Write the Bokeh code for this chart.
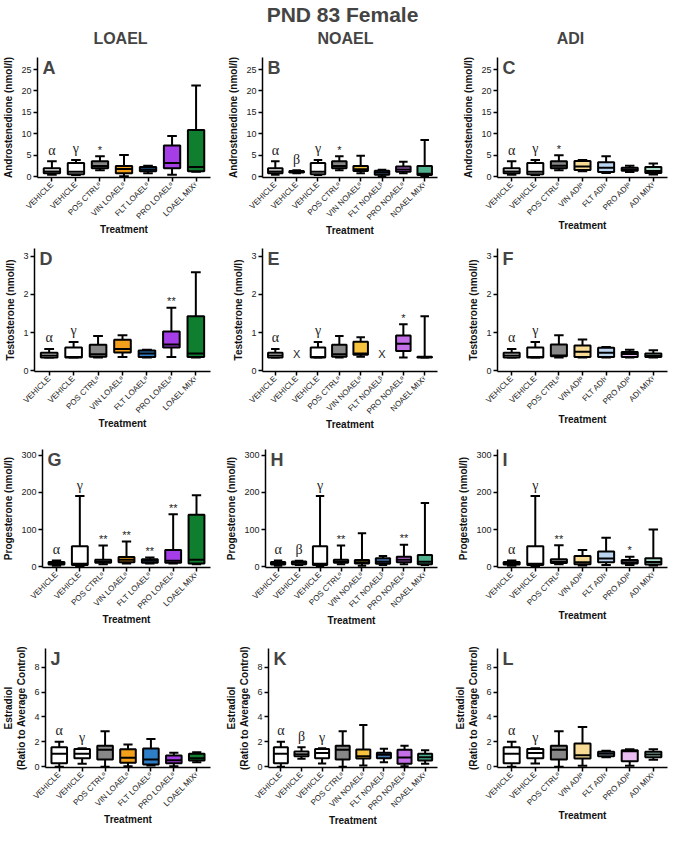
import math
from bokeh.plotting import figure
from bokeh.models import ColumnDataSource, Range1d, FixedTicker, Label
from bokeh.layouts import column, row
from bokeh.transform import dodge
from bokeh.core.properties import value
from bokeh.embed import file_html
from bokeh.resources import INLINE

nan = float("nan")
FONT = "Liberation Sans"

# ---------------- categories ----------------
LOAEL_NAMES = ["VEHICLE", "VEHICLE", "POS CTRL", "VIN LOAEL", "FLT LOAEL", "PRO LOAEL", "LOAEL MIX"]
LOAEL_SUPS = ["", "", "ᵅ", "ᵅ", "ᵅ", "ᵅ", "ᵞ"]
NOAEL_NAMES = ["VEHICLE", "VEHICLE", "VEHICLE", "POS CTRL", "VIN NOAEL", "FLT NOAEL", "PRO NOAEL", "NOAEL MIX"]
NOAEL_SUPS = ["", "", "", "ᵅ", "ᵅ", "ᵝ", "ᵅ", "ᵞ"]
ADI_NAMES = ["VEHICLE", "VEHICLE", "POS CTRL", "VIN ADI", "FLT ADI", "PRO ADI", "ADI MIX"]
ADI_SUPS = ["", "", "ᵅ", "ᵅ", "ᵞ", "ᵅ", "ᵞ"]

# ---------------- Androstenedione ----------------
A_low = [0.5, 0.4, 1.5, 0.15, 0.8, 0.5, 1.2]
A_q1 = [0.8, 0.6, 2.0, 0.8, 1.3, 2.0, 1.3]
A_med = [1.25, 1.2, 2.5, 1.8, 1.7, 3.2, 2.3]
A_q3 = [2.0, 3.2, 3.6, 2.5, 2.3, 7.3, 10.9]
A_high = [3.6, 3.9, 4.8, 5.1, 2.6, 9.5, 21.3]
A_marks = ["α", "γ", "*", "", "", "", ""]

B_low = [0.5, 0.8, 0.4, 1.5, 0.8, 0.1, 0.8, 0.2]
B_q1 = [0.8, 1.0, 0.6, 2.0, 1.35, 0.5, 1.2, 0.4]
B_med = [1.25, 1.15, 1.2, 2.5, 1.75, 1.0, 1.7, 0.7]
B_q3 = [2.0, 1.35, 3.2, 3.6, 2.5, 1.4, 2.4, 2.5]
B_high = [3.6, 1.5, 3.9, 4.8, 4.9, 1.65, 3.5, 8.6]
B_marks = ["α", "β", "γ", "*", "", "", "", ""]

C_low = [0.5, 0.4, 1.5, 1.3, 0.9, 1.1, 0.55]
C_q1 = [0.8, 0.6, 2.0, 1.6, 1.1, 1.4, 0.9]
C_med = [1.25, 1.2, 2.6, 2.4, 2.1, 1.7, 1.35]
C_q3 = [2.0, 3.2, 3.6, 3.7, 3.4, 2.1, 2.3]
C_high = [3.6, 3.9, 5.0, 3.9, 4.8, 2.6, 3.1]
C_marks = ["α", "γ", "*", "", "", "", ""]

# ---------------- Testosterone ----------------
D_low = [0.35, 0.35, 0.35, 0.36, 0.35, 0.36, 0.35]
D_q1 = [0.35, 0.35, 0.37, 0.48, 0.36, 0.61, 0.36]
D_med = [0.40, 0.36, 0.43, 0.57, 0.45, 0.69, 0.45]
D_q3 = [0.47, 0.61, 0.68, 0.81, 0.53, 1.03, 1.43]
D_high = [0.57, 0.75, 0.91, 0.93, 0.55, 1.65, 2.58]
D_marks = ["α", "γ", "", "", "", "**", ""]

E_low = [0.35, nan, 0.35, 0.35, 0.37, nan, 0.35, 0.35]
E_q1 = [0.35, nan, 0.35, 0.37, 0.42, nan, 0.52, 0.35]
E_med = [0.40, nan, 0.36, 0.43, 0.45, nan, 0.71, 0.36]
E_q3 = [0.47, nan, 0.61, 0.68, 0.76, nan, 0.92, 0.37]
E_high = [0.57, nan, 0.75, 0.91, 0.88, nan, 1.22, 1.43]
E_marks = ["α", "X", "γ", "", "", "X", "*", ""]

F_low = [0.35, 0.35, 0.35, 0.35, 0.35, 0.35, 0.35]
F_q1 = [0.35, 0.35, 0.38, 0.36, 0.36, 0.36, 0.36]
F_med = [0.40, 0.36, 0.40, 0.50, 0.47, 0.44, 0.39]
F_q3 = [0.47, 0.61, 0.69, 0.66, 0.60, 0.49, 0.45]
F_high = [0.57, 0.75, 0.93, 0.82, 0.62, 0.55, 0.54]
F_marks = ["α", "γ", "", "", "", "", ""]

# ---------------- Progesterone ----------------
G_low = [3, 1, 7, 9, 9, 9, 7]
G_q1 = [6, 4.5, 11, 12, 11, 11, 9]
G_med = [9, 8, 13.5, 19, 16, 16, 19]
G_q3 = [13, 55, 19, 26, 20, 45, 140]
G_high = [17, 190, 57, 68, 25, 141, 192]
G_marks = ["α", "γ", "**", "**", "**", "**", ""]

H_low = [3, 5, 1, 7, 3, 5, 7, 4.5]
H_q1 = [6, 7, 4.5, 11, 9, 8, 12, 7]
H_med = [9, 11, 8, 13.5, 12, 13.5, 19, 13.5]
H_q3 = [13, 14.5, 55, 19, 18, 23, 27, 32]
H_high = [17, 16, 190, 57, 90, 29, 59, 171]
H_marks = ["α", "β", "γ", "**", "", "", "**", ""]

I_low = [3, 1, 7, 3.5, 5, 5, 3.5]
I_q1 = [6, 4.5, 10, 7, 12.5, 9, 6]
I_med = [9, 8, 13, 12.5, 22, 12.5, 13]
I_q3 = [13, 55, 20, 29, 41, 18, 23]
I_high = [17, 190, 58, 45, 78, 27, 100]
I_marks = ["α", "γ", "**", "", "", "*", ""]

# ---------------- Estradiol ----------------
J_low = [0.0, 0.25, 0.0, 0.05, 0.1, 0.05, 0.37]
J_q1 = [0.29, 0.68, 0.58, 0.32, 0.19, 0.29, 0.5]
J_med = [1.05, 1.05, 1.36, 0.72, 0.58, 0.53, 0.69]
J_q3 = [1.57, 1.42, 1.68, 1.41, 1.46, 0.9, 1.04]
J_high = [2.02, 1.48, 2.85, 1.8, 2.23, 1.12, 1.17]
J_marks = ["α", "γ", "", "", "", "", ""]

K_low = [0.0, 0.64, 0.27, 0.0, 0.1, 0.37, 0.05, 0.24]
K_q1 = [0.29, 0.85, 0.69, 0.58, 0.66, 0.69, 0.24, 0.5]
K_med = [1.05, 1.01, 1.1, 1.36, 0.85, 0.96, 0.74, 0.77]
K_q3 = [1.57, 1.22, 1.42, 1.68, 1.38, 1.12, 1.36, 1.04]
K_high = [2.02, 1.57, 1.49, 2.85, 3.35, 1.44, 1.68, 1.33]
K_marks = ["α", "β", "γ", "", "", "", "", ""]

L_low = [0.0, 0.27, 0.0, 0.08, 0.77, 0.08, 0.56]
L_q1 = [0.29, 0.69, 0.58, 0.67, 0.85, 0.45, 0.77]
L_med = [1.05, 1.1, 1.36, 0.93, 1.04, 1.25, 0.99]
L_q3 = [1.57, 1.42, 1.68, 1.87, 1.2, 1.33, 1.2]
L_high = [2.02, 1.49, 2.85, 3.2, 1.28, 1.41, 1.41]
L_marks = ["α", "γ", "", "", "", "", ""]

Y_LABELS = ["Androstenedione (nmol/l)", "Testosterone (nmol/l)",
            "Progesterone (nmol/l)", "Estradiol\n(Ratio to Average Control)"]
Y_TICKS = [[0, 5, 10, 15, 20, 25], [0, 1, 2, 3], [0, 100, 200, 300], [0, 2, 4, 6, 8]]
Y_MAX = [27.8, 3.2, 315, 9.5]

COLORS = {
    "VEHICLE": "#ffffff", "POS CTRL": "#878787",
    "VIN LOAEL": "#f5a01a", "FLT LOAEL": "#2f7fc8", "PRO LOAEL": "#a53ee6", "LOAEL MIX": "#0f7f2f",
    "VIN NOAEL": "#f7c23e", "FLT NOAEL": "#4479b3", "PRO NOAEL": "#c46fe8", "NOAEL MIX": "#4fb08e",
    "VIN ADI": "#f8dc95", "FLT ADI": "#bcd6f2", "PRO ADI": "#e9bdf2", "ADI MIX": "#aadcc8",
}

COL_W = 223
ROW_H = [192, 194, 196, 200]
ROW_TOP = [10, 9, 16, 19]
COL_LEFT = [34, 39, 51]
COL_RIGHT = [13, 9, 2]


def panel(letter, names, sups, low, q1, med, q3, high, marks, r, c):
    n = len(names)
    ymax = Y_MAX[r]
    ymin = -0.006 * ymax
    xs = list(range(1, n + 1))
    p = figure(width=COL_W, height=ROW_H[r],
               x_range=Range1d(0.4, n + 0.6), y_range=Range1d(ymin, ymax),
               output_backend="svg", toolbar_location=None,
               min_border_left=COL_LEFT[c], min_border_right=COL_RIGHT[c],
               min_border_top=ROW_TOP[r], min_border_bottom=0)
    p.outline_line_color = None
    p.grid.visible = False
    src = ColumnDataSource(dict(x=xs, low=low, q1=q1, med=med, q3=q3, high=high,
                                color=[COLORS[nm] for nm in names]))
    kw = dict(source=src, line_color="black", line_width=2)
    p.segment(x0="x", y0="low", x1="x", y1="q1", **kw)
    p.segment(x0="x", y0="q3", x1="x", y1="high", **kw)
    p.segment(x0=dodge("x", -0.2), y0="high", x1=dodge("x", 0.2), y1="high", **kw)
    p.segment(x0=dodge("x", -0.2), y0="low", x1=dodge("x", 0.2), y1="low", **kw)
    p.vbar(x="x", width=0.68, bottom="q1", top="q3", fill_color="color", **kw)
    p.segment(x0=dodge("x", -0.34), y0="med", x1=dodge("x", 0.34), y1="med", **kw)

    # annotations above boxes
    gx, gy, gt, sx, sy, st = [], [], [], [], [], []
    for i, m in enumerate(marks):
        if not m:
            continue
        h = high[i]
        if m in ("α", "β", "γ"):
            gx.append(xs[i]); gy.append(h + 0.03 * ymax); gt.append(m)
        elif m == "X":
            sx.append(xs[i]); sy.append(0.09 * ymax); st.append("X")
        else:
            sx.append(xs[i]); sy.append(h + 0.005 * ymax); st.append(m)
    if gt:
        p.text(x="x", y="y", text="t", source=ColumnDataSource(dict(x=gx, y=gy, t=gt)),
               text_font=value("Liberation Serif"), text_font_size=value("14px"),
               text_align="center", text_baseline="bottom", text_color="#222222")
    if st:
        p.text(x="x", y="y", text="t", source=ColumnDataSource(dict(x=sx, y=sy, t=st)),
               text_font=value(FONT), text_font_size=value("11px"),
               text_align="center", text_baseline="bottom", text_color="#222222")

    p.add_layout(Label(x=0.4, y=ymax, x_offset=5, text=letter, text_font=FONT,
                       text_font_size="18px", text_font_style="bold",
                       text_baseline="top", text_align="left"))

    p.xaxis.ticker = FixedTicker(ticks=xs)
    p.xaxis.major_label_overrides = {x: nm + s for x, nm, s in zip(xs, names, sups)}
    p.xaxis.major_label_orientation = math.pi / 4
    p.yaxis.ticker = FixedTicker(ticks=Y_TICKS[r])
    p.xaxis.axis_label = "Treatment"
    p.yaxis.axis_label = Y_LABELS[r]
    for ax in (p.xaxis, p.yaxis):
        ax.axis_line_width = 1.5
        ax.major_tick_line_width = 1.5
        ax.major_tick_in = 0
        ax.major_tick_out = 4
        ax.minor_tick_line_color = None
        ax.major_label_text_font = FONT
        ax.major_label_text_color = "#222222"
        ax.major_label_standoff = 2
        ax.axis_label_text_font = FONT
        ax.axis_label_text_font_style = "bold"
        ax.axis_label_text_font_size = "10px"
        ax.axis_label_text_color = "#111111"
    p.yaxis.major_label_text_font_size = "9px"
    p.xaxis.major_label_text_font_size = "8px"
    p.yaxis.axis_label_standoff = 4
    p.xaxis.axis_label_standoff = -3
    return p


cols = [(LOAEL_NAMES, LOAEL_SUPS), (NOAEL_NAMES, NOAEL_SUPS), (ADI_NAMES, ADI_SUPS)]
DATA = [
    [("A", A_low, A_q1, A_med, A_q3, A_high, A_marks),
     ("B", B_low, B_q1, B_med, B_q3, B_high, B_marks),
     ("C", C_low, C_q1, C_med, C_q3, C_high, C_marks)],
    [("D", D_low, D_q1, D_med, D_q3, D_high, D_marks),
     ("E", E_low, E_q1, E_med, E_q3, E_high, E_marks),
     ("F", F_low, F_q1, F_med, F_q3, F_high, F_marks)],
    [("G", G_low, G_q1, G_med, G_q3, G_high, G_marks),
     ("H", H_low, H_q1, H_med, H_q3, H_high, H_marks),
     ("I", I_low, I_q1, I_med, I_q3, I_high, I_marks)],
    [("J", J_low, J_q1, J_med, J_q3, J_high, J_marks),
     ("K", K_low, K_q1, K_med, K_q3, K_high, K_marks),
     ("L", L_low, L_q1, L_med, L_q3, L_high, L_marks)],
]

rows = []
for r, rowdata in enumerate(DATA):
    figs = []
    for c, (letter, lo, a, md, b, hi, mk) in enumerate(rowdata):
        names, sups = cols[c]
        figs.append(panel(letter, names, sups, lo, a, md, b, hi, mk, r, c))
    rows.append(row(*figs))

# header
hdr = figure(width=3 * COL_W, height=47, x_range=Range1d(0, 3 * COL_W), y_range=Range1d(0, 47),
             output_backend="svg", toolbar_location=None, min_border=0,
             x_axis_location=None, y_axis_location=None)
hdr.outline_line_color = None
hdr.grid.visible = False
hdr.add_layout(Label(x=342, y=33, text="PND 83 Female", text_font=FONT, text_font_size="21px",
                     text_font_style="bold", text_align="center", text_baseline="middle"))
for xx, t in [(120, "LOAEL"), (345, "NOAEL"), (570, "ADI")]:
    hdr.add_layout(Label(x=xx, y=9, text=t, text_font=FONT, text_font_size="16px",
                         text_font_style="bold", text_align="center", text_baseline="middle"))

layout = column(hdr, *rows)
open("out.html", "w").write(file_html(layout, INLINE))
